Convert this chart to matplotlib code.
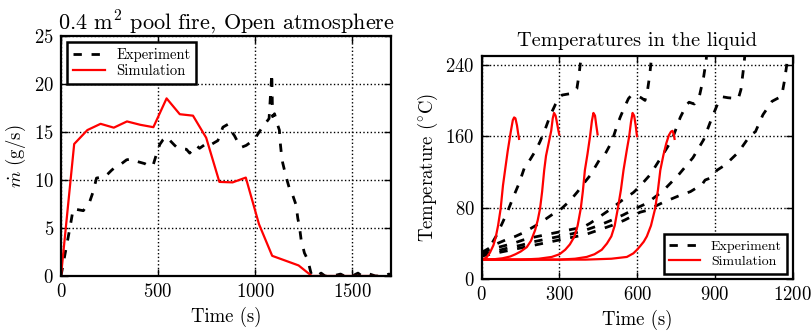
import numpy as np
import matplotlib.pyplot as plt

# classic look, Computer Modern text
plt.rcParams['font.family'] = 'serif'
plt.rcParams['font.serif'] = ['cmr10']
plt.rcParams['mathtext.fontset'] = 'cm'
plt.rcParams['axes.formatter.use_mathtext'] = True
plt.rcParams['lines.scale_dashes'] = False
plt.rcParams['xtick.direction'] = 'in'
plt.rcParams['ytick.direction'] = 'in'
plt.rcParams['xtick.top'] = True
plt.rcParams['ytick.right'] = True

# --- pool fire mass loss rate ---
exp_t = [0, 20, 46, 63, 89, 115, 149, 166, 183, 209, 224, 240, 260, 277, 312, 338,
         364, 380, 397, 432, 457, 474, 492, 509, 526, 543, 586, 603, 646, 663, 697,
         714, 749, 766, 791, 808, 834, 860, 877, 894, 920, 929, 954, 988, 1005, 1031,
         1057, 1072, 1086, 1090, 1100, 1115, 1125, 1130, 1135, 1142, 1160, 1177, 1194,
         1211, 1220, 1228, 1237, 1254, 1271, 1288, 1297, 1320, 1340, 1360, 1400, 1440,
         1460, 1500, 1530, 1550, 1590, 1620, 1660, 1690, 1700]
exp_m = [0.0, 2.2, 5.0, 7.0, 6.9, 6.8, 7.8, 8.8, 10.2, 10.3, 10.3, 10.6, 11.0, 11.3,
         11.7, 12.1, 12.2, 12.0, 11.9, 11.7, 11.4, 11.5, 12.7, 13.7, 14.2, 14.5, 13.6,
         13.3, 13.2, 12.8, 13.6, 13.3, 13.8, 13.6, 13.9, 14.1, 15.5, 15.8, 15.1, 14.6,
         13.6, 13.4, 13.6, 14.1, 14.5, 15.3, 16.0, 16.4, 21.1, 16.6, 16.9, 15.8, 15.2,
         13.8, 12.8, 11.8, 10.3, 9.1, 8.4, 7.4, 6.0, 5.2, 3.8, 2.4, 1.7, 0.3, 0.0, 0.0,
         0.3, 0.0, 0.0, 0.2, 0.0, 0.0, 0.3, 0.0, 0.2, 0.0, 0.0, 0.2, 0.0]

sim_t = [0, 68, 136, 204, 272, 340, 408, 476, 544, 612, 680, 748, 816, 884, 952, 1020,
         1088, 1156, 1224, 1292, 1360, 1428, 1496, 1564, 1632]
sim_m = [0.0, 13.75, 15.2, 15.85, 15.45, 16.1, 15.75, 15.5, 18.5, 16.85, 16.7, 14.4,
         9.8, 9.75, 10.25, 5.4, 2.1, 1.6, 1.1, 0.0, 0.0, 0.0, 0.0, 0.0, 0.0]

# --- liquid temperatures (experiment, 5 thermocouples) ---
liq_exp_t = [
    [0, 15, 33, 55, 78, 100, 122, 145, 165, 187, 210, 225, 245, 264, 285, 302, 310,
     330, 350, 367, 375, 382, 390],
    [0, 30, 60, 100, 130, 160, 190, 220, 250, 280, 304, 341, 370, 393, 418, 457, 476,
     502, 520, 534, 550, 566, 575, 600, 615, 630, 640, 648, 655, 660],
    [0, 40, 80, 120, 160, 200, 250, 300, 350, 390, 420, 450, 500, 540, 585, 610, 650,
     700, 734, 766, 790, 800, 820, 840, 856, 866, 870],
    [0, 50, 100, 150, 200, 250, 300, 350, 400, 450, 500, 546, 600, 637, 700, 760, 815,
     856, 890, 910, 930, 950, 990, 1000, 1011, 1020],
    [0, 50, 100, 150, 200, 250, 300, 350, 400, 450, 500, 550, 611, 637, 700, 766, 805,
     850, 862, 880, 908, 940, 990, 1036, 1056, 1085, 1120, 1146, 1158, 1168, 1176, 1182],
]
liq_exp_T = [
    [25, 30, 37, 48, 62, 76, 92, 108, 125, 134, 145, 154, 168, 183, 196, 204, 206,
     207, 208, 213, 228, 245, 265],
    [30, 35, 40, 45, 48, 52, 57, 62, 68, 74, 78, 88, 98, 107, 116, 135, 140, 154, 170,
     181, 192, 202, 205, 205, 203, 200, 212, 228, 248, 265],
    [30, 34, 37, 40, 44, 47, 50, 53, 56, 58, 63, 69, 79, 88, 97, 104, 117, 140, 156,
     181, 195, 198, 196, 205, 226, 245, 260],
    [28, 31, 35, 38, 42, 45, 48, 51, 55, 60, 66, 72, 80, 85, 99, 117, 136, 156, 182,
     196, 204, 203, 202, 212, 238, 265],
    [26, 29, 32, 35, 38, 41, 44, 47, 50, 55, 60, 66, 75, 77, 86, 94, 98, 106, 111, 113,
     122, 128, 142, 161, 165, 184, 199, 203, 206, 222, 238, 260],
]

# --- liquid temperatures (simulation) ---
liq_sim_t = [
    [0, 10, 20, 32, 45, 54, 63, 73, 82, 90, 100, 112, 120, 125, 130, 136, 140, 144],
    [0, 50, 80, 110, 130, 150, 174, 190, 206, 216, 225, 233, 241, 248, 258, 268, 274,
     279, 285, 291, 296, 299],
    [0, 150, 220, 270, 300, 322, 340, 358, 370, 382, 390, 398, 408, 418, 425, 431, 437,
     442, 447],
    [0, 300, 360, 405, 435, 463, 483, 500, 513, 525, 537, 547, 560, 569, 576, 582, 588,
     594, 599],
    [0, 400, 500, 560, 585, 599, 611, 625, 637, 653, 669, 680, 689, 701, 712, 722, 730,
     736, 740, 744],
]
liq_sim_T = [
    [22, 23, 25, 30, 38, 47, 60, 79, 105, 122, 143, 165, 178, 181, 180, 172, 164, 157],
    [22, 22.5, 23.5, 25.5, 28, 31, 36, 43, 55, 66, 79, 98, 122, 138, 152, 166, 180, 186,
     183, 174, 166, 162],
    [22, 22, 23, 25, 28, 33, 39, 48, 60, 79, 98, 122, 140, 160, 177, 186, 183, 172, 162],
    [22, 22, 23, 25, 28, 33, 40, 48, 60, 79, 100, 122, 145, 160, 176, 186, 183, 172, 160],
    [22, 22, 23, 25, 29, 33, 37, 42, 48, 60, 79, 100, 122, 139, 152, 161, 165, 166, 163,
     157],
]

fig = plt.figure(figsize=(8.11, 3.31), dpi=100)
ax1 = fig.add_axes([0.0752, 0.1662, 0.4069, 0.7251])
ax2 = fig.add_axes([0.594, 0.1562, 0.3835, 0.6755])

exp_style = dict(color='k', lw=2.0, dashes=(6, 7))
sim_style = dict(color='red', lw=1.6)

ax1.plot(exp_t, exp_m, label='Experiment', **exp_style)
ax1.plot(sim_t, sim_m, label='Simulation', **sim_style)
ax1.set_xlim(0, 1700)
ax1.set_ylim(0, 25)
ax1.set_xticks([0, 500, 1000, 1500])
ax1.set_yticks([0, 5, 10, 15, 20, 25])
ax1.set_xlabel('Time (s)', fontsize=13.5)
ax1.set_ylabel(r'$\dot{m}$ (g/s)', fontsize=13.5)
ax1.set_title(r'0.4 m$^2$ pool fire, Open atmosphere', fontsize=16, pad=5)

for i in range(len(liq_exp_t)):
    ax2.plot(liq_exp_t[i], liq_exp_T[i], label='Experiment' if i == 0 else None, **exp_style)
for i in range(len(liq_sim_t)):
    ax2.plot(liq_sim_t[i], liq_sim_T[i], label='Simulation' if i == 0 else None, **sim_style)
ax2.set_xlim(0, 1200)
ax2.set_ylim(0, 250)
ax2.set_xticks([0, 300, 600, 900, 1200])
ax2.set_yticks([0, 80, 160, 240])
ax2.set_xlabel('Time (s)', fontsize=13.5)
ax2.set_ylabel(r'Temperature ($^{\circ}$C)', fontsize=13.5)
ax2.set_title('Temperatures in the liquid', fontsize=14.7, pad=7)

for ax, loc in ((ax1, 'upper left'), (ax2, 'lower right')):
    ax.grid(True, color='k', linestyle=':', linewidth=1.0)
    ax.tick_params(labelsize=13.5, length=5, width=1, pad=5)
    for s in ax.spines.values():
        s.set_linewidth(1.6)
    leg = ax.legend(loc=loc, fontsize=10.5 if ax is ax1 else 10, fancybox=False,
                    framealpha=1, edgecolor='k', handlelength=2.2, borderpad=0.4,
                    labelspacing=0.2, borderaxespad=0.4)
    leg.get_frame().set_linewidth(1.8)

fig.savefig('out.png', dpi=100)
